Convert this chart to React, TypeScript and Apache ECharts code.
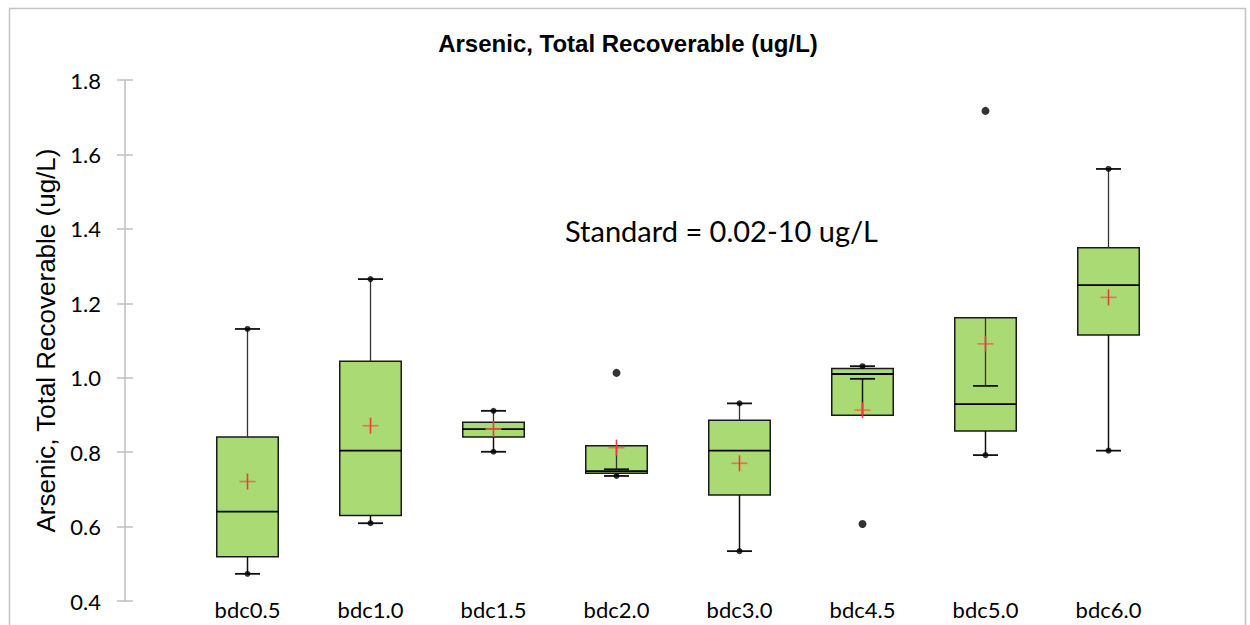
import React, { useEffect, useRef } from "react";
import * as echarts from "echarts";

const categories = ["bdc0.5", "bdc1.0", "bdc1.5", "bdc2.0", "bdc3.0", "bdc4.5", "bdc5.0", "bdc6.0"];
const q1 = [0.519, 0.630, 0.841, 0.743, 0.685, 0.899, 0.857, 1.115];
const median = [0.640, 0.804, 0.862, 0.749, 0.804, 1.010, 0.929, 1.249];
const q3 = [0.841, 1.044, 0.880, 0.817, 0.886, 1.025, 1.161, 1.349];
const whiskerLow = [0.473, 0.609, 0.801, 0.736, 0.534, 0.997, 0.792, 0.804];
const whiskerHigh = [1.131, 1.265, 0.911, 0.754, 0.931, 1.031, 0.978, 1.561];
const means = [0.721, 0.871, 0.862, 0.812, 0.770, 0.913, 1.091, 1.216];
const minDots: (number | null)[] = [0.473, 0.609, 0.801, 0.736, 0.534, null, 0.792, 0.804];
const maxDots: (number | null)[] = [1.131, 1.265, 0.911, null, 0.931, 1.031, null, 1.561];
const outliers: [string, number][] = [
  ["bdc2.0", 1.013],
  ["bdc4.5", 0.607],
  ["bdc5.0", 1.717],
];
const yTicks = { min: 0.4, max: 1.8, interval: 0.2 };
const titleText = "Arsenic, Total Recoverable (ug/L)";
const yName = "Arsenic, Total Recoverable (ug/L)";
const standardText = "Standard = 0.02-10 ug/L";

export default function App() {
  const ref = useRef<HTMLDivElement>(null);
  useEffect(() => {
    if (!ref.current) return;
    const chart = echarts.init(ref.current, null, { renderer: "svg" });
    const boxData = categories.map((c, i) => [i, q1[i], median[i], q3[i], whiskerLow[i], whiskerHigh[i], means[i]]);
    const dotData: [number, number][] = [];
    categories.forEach((c, i) => {
      if (minDots[i] != null) dotData.push([i, minDots[i] as number]);
      if (maxDots[i] != null) dotData.push([i, maxDots[i] as number]);
    });
    const renderItem = (params: any, api: any) => {
      const idx = api.value(0);
      const x = api.coord([idx, 0])[0];
      const Y = (v: number) => api.coord([idx, v])[1];
      const bw = api.size([1, 0])[0] * 0.5;
      const cw = 25;
      const vQ1 = api.value(1), vMed = api.value(2), vQ3 = api.value(3);
      const vLo = api.value(4), vHi = api.value(5), vMean = api.value(6);
      const black = "#000";
      const m = 8;
      return {
        type: "group",
        children: [
          {
            type: "rect",
            shape: { x: x - bw / 2, y: Y(vQ3), width: bw, height: Y(vQ1) - Y(vQ3) },
            style: { fill: "#A9DA74", stroke: "#1a1a1a", lineWidth: 1.5 },
          },
          {
            type: "line",
            shape: { x1: x - bw / 2, y1: Y(vMed), x2: x + bw / 2, y2: Y(vMed) },
            style: { stroke: black, lineWidth: 1.8 },
          },
          {
            type: "line",
            shape: { x1: x, y1: Y(vQ3), x2: x, y2: Y(vHi) },
            style: { stroke: "#333", lineWidth: 1.3 },
          },
          {
            type: "line",
            shape: { x1: x, y1: Y(vQ1), x2: x, y2: Y(vLo) },
            style: { stroke: "#111", lineWidth: 1.5 },
          },
          {
            type: "line",
            shape: { x1: x - cw / 2, y1: Y(vHi), x2: x + cw / 2, y2: Y(vHi) },
            style: { stroke: "#111", lineWidth: 1.8 },
          },
          {
            type: "line",
            shape: { x1: x - cw / 2, y1: Y(vLo), x2: x + cw / 2, y2: Y(vLo) },
            style: { stroke: "#111", lineWidth: 1.8 },
          },
          {
            type: "line",
            shape: { x1: x - m, y1: Y(vMean), x2: x + m, y2: Y(vMean) },
            style: { stroke: "#EC6F4F", lineWidth: 1.6 },
          },
          {
            type: "line",
            shape: { x1: x, y1: Y(vMean) - m, x2: x, y2: Y(vMean) + m },
            style: { stroke: "#F03A3A", lineWidth: 1.6 },
          },
        ],
      };
    };
    chart.setOption({
      animation: false,
      backgroundColor: "#fff",
      title: {
        text: titleText,
        left: 623,
        textAlign: "center",
        top: 26,
        textStyle: { fontFamily: "Liberation Sans", fontWeight: "bold", fontSize: 24, color: "#000" },
      },
      graphic: [
        {
          type: "rect",
          left: 7,
          top: 6,
          shape: { width: 1236, height: 650 },
          style: { fill: "none", stroke: "#c4c4c4", lineWidth: 1.5 },
          silent: true,
        },
        {
          type: "text",
          left: 565,
          top: 216,
          style: { text: standardText, font: "29px Lato", fill: "#000" },
        },
      ],
      grid: { left: 186, right: 80, top: 80, bottom: 24, containLabel: false },
      xAxis: {
        type: "category",
        data: categories,
        axisLine: { show: false },
        axisTick: { show: false },
        splitLine: { show: false },
        axisLabel: { fontFamily: "Lato", fontSize: 22, color: "#000", margin: -3 },
      },
      yAxis: [
        {
          type: "value",
          min: yTicks.min,
          max: yTicks.max,
          interval: yTicks.interval,
          offset: 61,
          name: yName,
          nameLocation: "middle",
          nameRotate: 90,
          nameGap: 60,
          nameTextStyle: { fontFamily: "Liberation Sans", fontSize: 26, color: "#000" },
          axisLine: { show: true, lineStyle: { color: "#bfbfbf", width: 1.5 } },
          axisTick: { show: true, length: 8, inside: false, lineStyle: { color: "#bfbfbf", width: 1.5 } },
          splitLine: { show: false },
          axisLabel: {
            fontFamily: "Lato",
            fontSize: 22,
            color: "#000",
            margin: 24,
            formatter: (v: number) => v.toFixed(1),
          },
        },
        {
          type: "value",
          min: yTicks.min,
          max: yTicks.max,
          interval: yTicks.interval,
          offset: 61,
          position: "left",
          axisLine: { show: false },
          axisTick: { show: true, length: 8, inside: true, lineStyle: { color: "#bfbfbf", width: 1.5 } },
          axisLabel: { show: false },
          splitLine: { show: false },
        },
      ],
      series: [
        {
          type: "custom",
          renderItem,
          data: boxData,
          encode: { x: 0, y: [1, 2, 3, 4, 5, 6] },
          clip: false,
          z: 2,
        },
        {
          type: "scatter",
          data: dotData,
          symbol: "circle",
          symbolSize: 6,
          itemStyle: { color: "#000" },
          z: 3,
        },
        {
          type: "scatter",
          data: outliers,
          symbol: "circle",
          symbolSize: 8,
          itemStyle: { color: "#000" },
          z: 3,
        },
      ],
    });
    return () => chart.dispose();
  }, []);
  return <div ref={ref} style={{ position: "fixed", left: 0, top: 0, width: 1250, height: 625 }} />;
}
